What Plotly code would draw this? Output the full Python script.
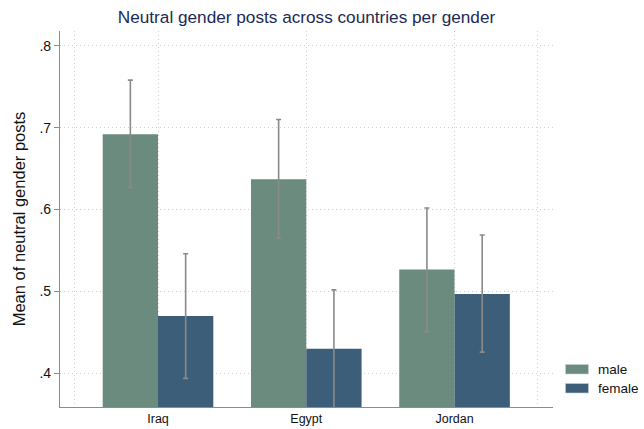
import plotly.graph_objects as go

# Mean share of neutral-gender posts with 95% confidence limits
countries = ["Iraq", "Egypt", "Jordan"]
male_mean = [0.692, 0.637, 0.527]
male_hi = [0.758, 0.710, 0.602]
male_lo = [0.627, 0.565, 0.451]
female_mean = [0.470, 0.430, 0.497]
female_hi = [0.546, 0.502, 0.569]
female_lo = [0.394, 0.358, 0.426]

y_ticks = [0.4, 0.5, 0.6, 0.7, 0.8]
y_tick_labels = [".4", ".5", ".6", ".7", ".8"]

MALE_COLOR = "#6b8b7f"
FEMALE_COLOR = "#3d5e78"
CI_COLOR = "#8a8a8a"
GRID_COLOR = "#cfcfcf"
FONT = "Liberation Sans, Arial, Helvetica, sans-serif"

# Plot region in pixels
L, R, T, B = 60, 91, 31, 22
W, H = 644, 429
PW, PH = W - L - R, H - T - B

x_pos = list(range(len(countries)))


def ci(mean, hi, lo):
    return dict(
        type="data",
        symmetric=False,
        array=[h - m for h, m in zip(hi, mean)],
        arrayminus=[m - l for m, l in zip(mean, lo)],
        color=CI_COLOR,
        thickness=1.6,
        width=2.5,
    )


fig = go.Figure()
fig.add_trace(go.Bar(
    x=x_pos, y=male_mean, name="male",
    marker=dict(color=MALE_COLOR, line=dict(width=0)),
    error_y=ci(male_mean, male_hi, male_lo),
    showlegend=False,
))
fig.add_trace(go.Bar(
    x=x_pos, y=female_mean, name="female",
    marker=dict(color=FEMALE_COLOR, line=dict(width=0)),
    error_y=ci(female_mean, female_hi, female_lo),
    showlegend=False,
))

# Legend drawn as colour keys next to the plot region
legend_items = [("male", MALE_COLOR, 364.5, 374.0), ("female", FEMALE_COLOR, 383.5, 393.0)]
for label, color, y0, y1 in legend_items:
    fig.add_shape(
        type="rect", xref="paper", yref="paper",
        x0=(565.5 - L) / PW, x1=(588.5 - L) / PW,
        y0=(H - B - y1) / PH, y1=(H - B - y0) / PH,
        fillcolor=color, line=dict(width=0.6, color="#c9d3d0"),
    )
    fig.add_annotation(
        xref="paper", yref="paper",
        x=(596 - L) / PW, y=(H - B - (y0 + y1) / 2) / PH,
        text=label, showarrow=False, xanchor="left", yanchor="middle",
        font=dict(family=FONT, size=13.5, color="#111111"),
    )

fig.update_layout(
    width=W, height=H,
    margin=dict(l=L, r=R, t=T, b=B, autoexpand=False),
    paper_bgcolor="white", plot_bgcolor="white",
    barmode="group", bargap=0.254, bargroupgap=0,
    font=dict(family=FONT, color="#111111"),
    title=dict(
        text="Neutral gender posts across countries per gender",
        x=(L + W - R) / 2 / W, xanchor="center",
        y=1 - 17 / H, yanchor="middle",
        font=dict(family=FONT, size=17.2, color="#1c2a55"),
    ),
    xaxis=dict(
        range=[-0.661, 2.664],
        tickvals=[-0.56, 0, 1, 2, 2.56],
        ticktext=["", "Iraq", "Egypt", "Jordan", ""],
        ticks="",
        automargin=False,
        showgrid=True, gridcolor=GRID_COLOR, griddash="1px,3px", gridwidth=1,
        showline=True, linecolor="#8c8c8c", linewidth=1.2,
        zeroline=False,
        tickfont=dict(family=FONT, size=12.5, color="#111111"),
    ),
    yaxis=dict(
        range=[0.359, 0.818],
        tickvals=y_ticks, ticktext=y_tick_labels,
        ticks="outside", ticklen=5, tickcolor="#8c8c8c", tickwidth=1,
        automargin=False,
        showgrid=True, gridcolor=GRID_COLOR, griddash="1px,3px", gridwidth=1,
        showline=True, linecolor="#8c8c8c", linewidth=1.2,
        zeroline=False,
        tickfont=dict(family=FONT, size=14, color="#111111"),
        title=dict(text="Mean of neutral gender posts", standoff=9,
                   font=dict(family=FONT, size=16.5, color="#111111")),
    ),
)

fig.write_html("out.html")
